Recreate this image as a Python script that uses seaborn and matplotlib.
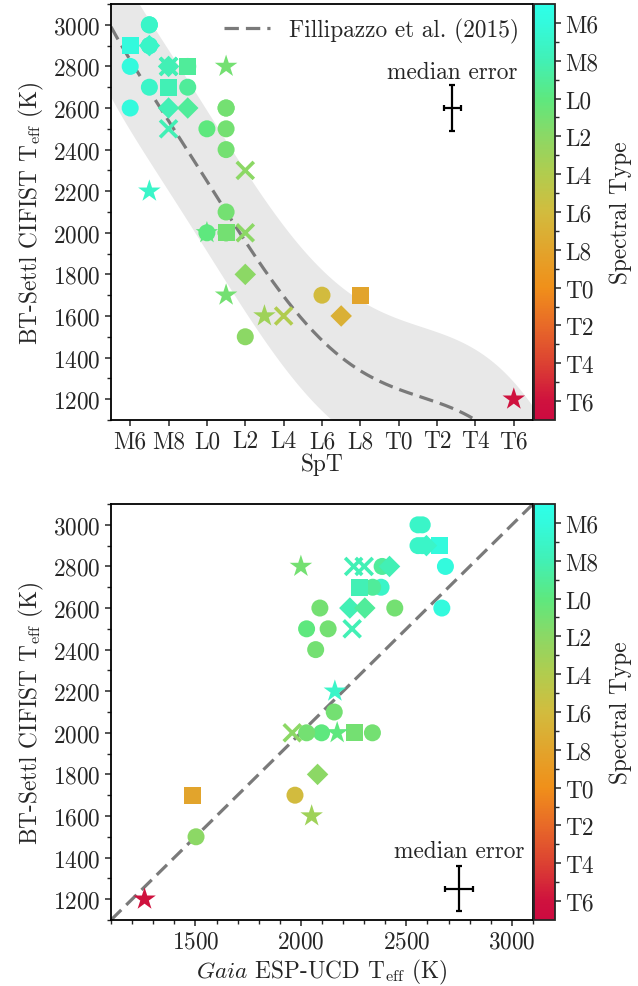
import numpy as np
import pandas as pd
import matplotlib
matplotlib.use("Agg")
import matplotlib.pyplot as plt
import seaborn as sns
from matplotlib.colors import LinearSegmentedColormap, Normalize
from matplotlib.cm import ScalarMappable

# ---------------- data ----------------
spt = [7, 7, 6, 7, 7, 7, 6, 8, 8, 8, 9, 9, 11, 7, 8, 9, 6, 8, 9, 11, 11, 8, 10, 11, 11,
       12, 7, 11, 10, 10, 11, 11, 11, 12, 12, 11, 16, 18, 13, 14, 17, 12, 26]
teff_bt = [3000, 3000, 2900, 2900, 2900, 2900, 2800, 2800, 2800, 2800, 2800, 2800, 2800,
           2700, 2700, 2700, 2600, 2600, 2600, 2600, 2600, 2500, 2500, 2500, 2400,
           2300, 2200, 2100, 2000, 2000, 2000, 2000, 2000, 2000, 1800, 1700, 1700, 1700,
           1600, 1600, 1600, 1500, 1200]
teff_gaia = [2555, 2575, 2657, 2595, 2555, 2575, 2685, 2420, 2250, 2300, np.nan, 2385, 2000,
             2380, 2280, 2340, 2668, 2232, 2303, 2090, 2445, 2243, 2027, 2129, 2070,
             np.nan, 2161, 2158, 2172, 2098, 2256, 2027, 2339, 1959, 2079, np.nan, 1972, 1486,
             2051, np.nan, np.nan, 1503, 1259]
marker = ['o', 'o', 's', 'D', 'o', 'o', 'o', 'D', 'x', 'x', 's', 'o', '*',
          'o', 's', 'o', 'o', 'D', 'D', 'o', 'o', 'x', 'o', 'o', 'o',
          'x', '*', 'o', '*', 'o', 's', 'o', 'o', 'x', 'D', '*', 'o', 's',
          '*', 'x', 'D', 'o', '*']

spt_ticks = [6, 8, 10, 12, 14, 16, 18, 20, 22, 24, 26]
spt_labels = ['M6', 'M8', 'L0', 'L2', 'L4', 'L6', 'L8', 'T0', 'T2', 'T4', 'T6']

# Filippazzo et al. (2015) field polynomial (c0..c6) and rms band
fil_coef = [4.747e3, -7.005e2, 1.155e2, -1.191e1, 6.318e-1, -1.606e-2, 1.546e-4]
fil_band = 339

# median errors
err_top = dict(x=22.8, y=2600, xerr=0.43, yerr=110)
err_bot = dict(x=2750, y=1250, xerr=68, yerr=108)

# colormap anchor colours (Spectral-type scale)
cm_vals = [5, 6, 8, 10, 12, 14, 16, 18, 20, 22, 24, 26, 27]
cm_cols = ['#2dffe8', '#33fadc', '#42f0b4', '#5ee87e', '#8cd865', '#b2cc4e', '#d2bc3e',
           '#e2a42c', '#f0901a', '#e86a28', '#dc4232', '#cf123e', '#cc0a40']

# ---------------- style ----------------
sns.set_theme(style="ticks")
plt.rcParams['font.family'] = ['cmr10', 'DejaVu Serif']
plt.rcParams['mathtext.fontset'] = 'cm'
plt.rcParams['axes.formatter.use_mathtext'] = True
plt.rcParams['axes.linewidth'] = 1.3
plt.rcParams['axes.unicode_minus'] = False
FS = 16.8

vmin, vmax = 5, 27
cmap = LinearSegmentedColormap.from_list(
    'spt', [((v - vmin) / (vmax - vmin), c) for v, c in zip(cm_vals, cm_cols)])
norm = Normalize(vmin, vmax)

df = pd.DataFrame(dict(spt=spt, bt=teff_bt, gaia=teff_gaia, marker=marker))
order = {'o': 0, 's': 1, 'D': 2, '*': 3, 'x': 4}
df['ord'] = df['marker'].map(order)
df = df.sort_values('ord', kind='stable')

sizes = {'o': 150, 's': 150, 'D': 120, '*': 290, 'x': 150}

fig = plt.figure(figsize=(6.38, 9.87), dpi=100)
ax1 = fig.add_axes([0.174, 0.5735, 0.6614, 0.4214])
cax1 = fig.add_axes([0.8369, 0.5735, 0.0329, 0.4214])
ax2 = fig.add_axes([0.174, 0.0669, 0.6614, 0.4214])
cax2 = fig.add_axes([0.8369, 0.0669, 0.0329, 0.4214])


def draw_points(ax, xcol):
    for m in ['o', 's', 'D', '*', 'x']:
        sub = df[df['marker'] == m].dropna(subset=[xcol])
        if sub.empty:
            continue
        kw = dict(linewidth=0) if m != 'x' else dict(linewidth=2.6)
        sns.scatterplot(data=sub, x=xcol, y='bt', hue='spt', hue_norm=norm, palette=cmap,
                        marker=m, s=sizes[m], legend=False, ax=ax, zorder=3, alpha=1, **kw)


# ---- top panel ----
xs = np.linspace(5, 27, 400)
poly = sum(c * xs ** i for i, c in enumerate(fil_coef))
ax1.fill_between(xs, poly - fil_band, poly + fil_band, color='#e8e8e8', lw=0, zorder=0)
ax1.plot(xs, poly, color='#7a7a7a', lw=2.3, ls=(0, (4.5, 2.2)), zorder=1,
         label='Fillipazzo et al. (2015)')
draw_points(ax1, 'spt')
ax1.errorbar(err_top['x'], err_top['y'], xerr=err_top['xerr'], yerr=err_top['yerr'],
             color='black', lw=1.6, capsize=2, capthick=1.6, zorder=4)
ax1.text(err_top['x'], 2775, 'median error', ha='center', va='center', fontsize=FS)
ax1.set_xlim(5, 27)
ax1.set_ylim(1100, 3100)
ax1.set_xticks(spt_ticks)
ax1.set_xticklabels(spt_labels)
ax1.set_yticks(np.arange(1200, 3001, 200))
ax1.set_yticks(np.arange(1100, 3101, 100), minor=True)
ax1.set_xlabel('SpT', fontsize=FS, labelpad=0)
ax1.set_ylabel(r'BT-Settl CIFIST T$_{\rm eff}$ (K)', fontsize=FS, labelpad=5)
leg = ax1.legend(loc='upper right', frameon=False, fontsize=FS, handlelength=2.0,
                 borderaxespad=0.2, handletextpad=0.8)

# ---- bottom panel ----
ax2.plot([1100, 3100], [1100, 3100], color='#7a7a7a', lw=2.3, ls=(0, (4.5, 2.2)), zorder=1)
draw_points(ax2, 'gaia')
ax2.errorbar(err_bot['x'], err_bot['y'], xerr=err_bot['xerr'], yerr=err_bot['yerr'],
             color='black', lw=1.6, capsize=2, capthick=1.6, zorder=4)
ax2.text(err_bot['x'], 1430, 'median error', ha='center', va='center', fontsize=FS)
ax2.set_xlim(1100, 3100)
ax2.set_ylim(1100, 3100)
ax2.set_xticks([1500, 2000, 2500, 3000])
ax2.set_xticks(np.arange(1100, 3101, 100), minor=True)
ax2.set_yticks(np.arange(1200, 3001, 200))
ax2.set_yticks(np.arange(1100, 3101, 100), minor=True)
ax2.set_xlabel(r'$\it{Gaia}$ ESP-UCD T$_{\rm eff}$ (K)', fontsize=FS, labelpad=3)
ax2.set_ylabel(r'BT-Settl CIFIST T$_{\rm eff}$ (K)', fontsize=FS, labelpad=5)

for ax in (ax1, ax2):
    ax.tick_params(axis='both', which='major', direction='out', length=4.5, width=1.1,
                   labelsize=FS, pad=3)
    ax.tick_params(axis='both', which='minor', direction='out', length=3, width=1.0)
    for sp in ax.spines.values():
        sp.set_visible(True)
        sp.set_color('black')

# ---- colorbars ----
for cax in (cax1, cax2):
    cb = fig.colorbar(ScalarMappable(norm=norm, cmap=cmap), cax=cax)
    cb.set_ticks(spt_ticks)
    cb.set_ticklabels(spt_labels)
    cb.ax.set_yticks(np.arange(7, 26, 2), minor=True)
    cb.ax.invert_yaxis()
    cb.ax.tick_params(which='major', length=4.5, width=1.1, labelsize=FS, pad=3)
    cb.ax.tick_params(which='minor', length=3, width=1.0)
    cb.outline.set_linewidth(1.3)
    cb.set_label('Spectral Type', fontsize=FS, labelpad=8)

fig.savefig('out.png', dpi=100)
